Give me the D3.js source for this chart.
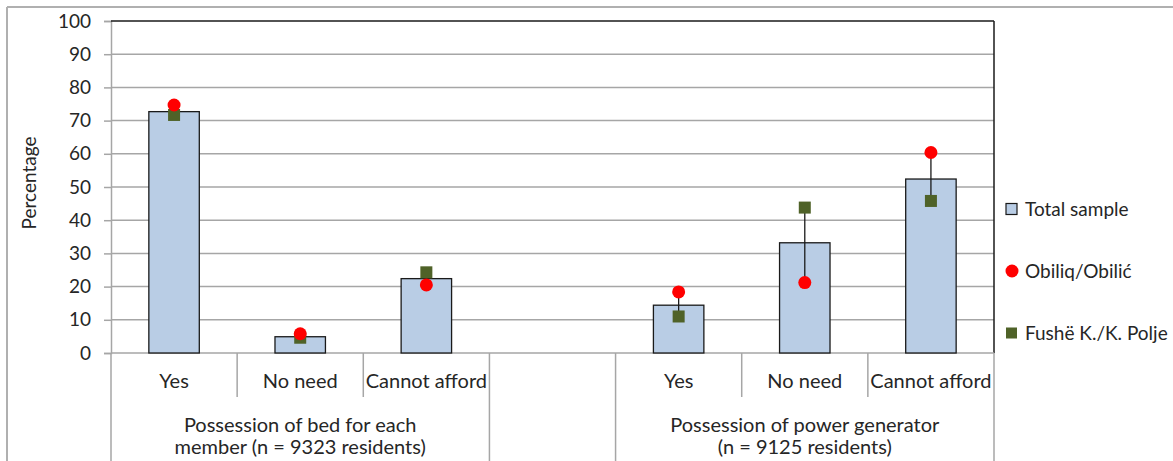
<!DOCTYPE html>
<html>
<head>
<meta charset="utf-8">
<script src="https://cdn.jsdelivr.net/npm/d3@7/dist/d3.min.js"></script>
<style>
  html, body { margin: 0; padding: 0; background: #fff; }
  svg { display: block; font-family: Lato, "Open Sans", sans-serif; }
</style>
</head>
<body>
<svg id="chart" width="1173" height="461"></svg>
<script>
// Category slots along the x axis (slot 3 is an empty spacer between the two groups)
const categories = ["Yes", "No need", "Cannot afford", "", "Yes", "No need", "Cannot afford"];
// Group labels: [first slot, last slot, label lines]
const groupStart = [0, 3, 4];
const groupEnd = [2, 3, 6];
const groupLabels = [
  ["Possession of bed for each", "member (n = 9323 residents)"],
  [],
  ["Possession of power generator", "(n = 9125 residents)"]
];
// Percentages
const totalSample = [72.7, 4.9, 22.4, null, 14.4, 33.2, 52.4];
const obiliq      = [74.7, 5.8, 20.5, null, 18.4, 21.2, 60.4];
const fushe       = [71.7, 4.6, 24.3, null, 11.0, 43.8, 45.8];
const yTicks = [0, 10, 20, 30, 40, 50, 60, 70, 80, 90, 100];
const seriesNames = ["Total sample", "Obiliq/Obilić", "Fushë K./K. Polje"];

const svg = d3.select("#chart");
const W = 1173, H = 461;
const plot = { left: 111, right: 994, top: 21, bottom: 353 };
const textColor = "#262626";
const gridColor = "#a6a6a6";
const barFill = "#b9cde5";
const red = "#ff0000";
const green = "#4f6228";
const fontSize = 20;
const tickFontSize = 19;
const legendFontSize = 19;

// Outer chart frame (top and left edges visible)
svg.append("line").attr("x1", 7).attr("x2", W).attr("y1", 7).attr("y2", 7)
  .attr("stroke", "#b0b0b0").attr("stroke-width", 2);
svg.append("line").attr("x1", 7).attr("x2", 7).attr("y1", 7).attr("y2", H)
  .attr("stroke", "#b0b0b0").attr("stroke-width", 2);

const x = d3.scaleBand().domain(d3.range(categories.length))
  .range([plot.left, plot.right]).padding(0);
const y = d3.scaleLinear().domain([0, 100]).range([plot.bottom, plot.top]);

// Horizontal gridlines
svg.append("g").selectAll("line").data(yTicks.slice(1, -1)).join("line")
  .attr("x1", plot.left).attr("x2", plot.right)
  .attr("y1", d => y(d)).attr("y2", d => y(d))
  .attr("stroke", gridColor).attr("stroke-width", 1.5);

// Y axis
const yAxis = d3.axisLeft(y).tickValues(yTicks).tickSize(7).tickPadding(13);
const gy = svg.append("g").attr("transform", `translate(${plot.left},0)`).call(yAxis);
gy.select(".domain").attr("stroke", gridColor).attr("stroke-width", 1.5);
gy.selectAll(".tick line").attr("stroke", gridColor).attr("stroke-width", 1.5);
gy.selectAll(".tick text").attr("fill", textColor)
  .style("font-size", tickFontSize + "px").style("font-family", "Lato, 'Open Sans', sans-serif");

// Plot frame: dark top and right edges
svg.append("line").attr("x1", plot.left).attr("x2", plot.right)
  .attr("y1", plot.top).attr("y2", plot.top).attr("stroke", "#1a1a1a").attr("stroke-width", 1.5);
svg.append("line").attr("x1", plot.right).attr("x2", plot.right)
  .attr("y1", plot.top).attr("y2", plot.bottom).attr("stroke", "#1a1a1a").attr("stroke-width", 1.5);

// Y axis title
svg.append("text")
  .attr("transform", `translate(36,${(plot.top + plot.bottom) / 2 - 4}) rotate(-90)`)
  .attr("text-anchor", "middle").attr("fill", textColor)
  .style("font-size", tickFontSize + "px").text("Percentage");

// Category axis: baseline, separators, labels
svg.append("line").attr("x1", plot.left).attr("x2", plot.right)
  .attr("y1", plot.bottom).attr("y2", plot.bottom)
  .attr("stroke", gridColor).attr("stroke-width", 1.5);

const groupEdges = new Set();
groupStart.forEach(s => groupEdges.add(s));
groupEnd.forEach(e => groupEdges.add(e + 1));
const edges = d3.range(categories.length + 1);
svg.append("g").selectAll("line").data(edges).join("line")
  .attr("x1", i => i < categories.length ? x(i) : plot.right)
  .attr("x2", i => i < categories.length ? x(i) : plot.right)
  .attr("y1", plot.bottom)
  .attr("y2", i => groupEdges.has(i) ? H : 397)
  .attr("stroke", gridColor).attr("stroke-width", 1.5);

svg.append("g").selectAll("text").data(categories).join("text")
  .attr("x", (d, i) => x(i) + x.bandwidth() / 2)
  .attr("y", 388)
  .attr("text-anchor", "middle").attr("fill", textColor)
  .style("font-size", fontSize + "px").text(d => d);

groupLabels.forEach((lines, gi) => {
  const cx = (x(groupStart[gi]) + x(groupEnd[gi]) + x.bandwidth()) / 2;
  lines.forEach((line, li) => {
    svg.append("text").attr("x", cx).attr("y", 432 + li * 22)
      .attr("text-anchor", "middle").attr("fill", textColor)
      .style("font-size", fontSize + "px").text(line);
  });
});

// Bars for the total sample
const barW = x.bandwidth() * 0.4;
const idx = d3.range(categories.length).filter(i => totalSample[i] != null);
svg.append("g").selectAll("rect").data(idx).join("rect")
  .attr("x", i => x(i) + (x.bandwidth() - barW) / 2)
  .attr("y", i => y(totalSample[i]))
  .attr("width", barW)
  .attr("height", i => y(0) - y(totalSample[i]))
  .attr("fill", barFill).attr("stroke", "#1a1a1a").attr("stroke-width", 1.3);

// Range line between the two municipalities
const cxOf = i => x(i) + x.bandwidth() / 2;
svg.append("g").selectAll("line").data(idx).join("line")
  .attr("x1", cxOf).attr("x2", cxOf)
  .attr("y1", i => y(obiliq[i])).attr("y2", i => y(fushe[i]))
  .attr("stroke", "#1a1a1a").attr("stroke-width", 1.3);

// Markers
const sq = 12;
svg.append("g").selectAll("rect").data(idx).join("rect")
  .attr("x", i => cxOf(i) - sq / 2).attr("y", i => y(fushe[i]) - sq / 2)
  .attr("width", sq).attr("height", sq).attr("fill", green);
svg.append("g").selectAll("circle").data(idx).join("circle")
  .attr("cx", cxOf).attr("cy", i => y(obiliq[i])).attr("r", 6.5).attr("fill", red);

// Legend
const legendY = [209, 271, 333];
const lg = svg.append("g");
lg.append("rect").attr("x", 1006).attr("y", legendY[0] - 5.5).attr("width", 11).attr("height", 11)
  .attr("fill", barFill).attr("stroke", "#1a1a1a").attr("stroke-width", 1.2);
lg.append("circle").attr("cx", 1012).attr("cy", legendY[1]).attr("r", 6.5).attr("fill", red);
lg.append("rect").attr("x", 1006).attr("y", legendY[2] - 5.5).attr("width", 11).attr("height", 11)
  .attr("fill", green);
lg.selectAll("text").data(seriesNames).join("text")
  .attr("x", 1025).attr("y", (d, i) => legendY[i] + 7)
  .attr("fill", textColor).style("font-size", legendFontSize + "px").text(d => d);
</script>
</body>
</html>
